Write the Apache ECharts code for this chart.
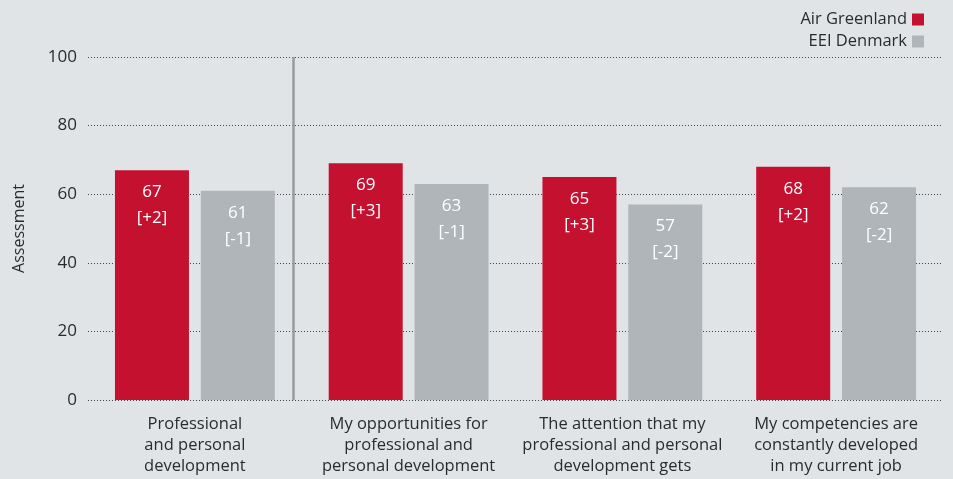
<!DOCTYPE html>
<html>
<head>
<meta charset="utf-8">
<script src="https://cdn.jsdelivr.net/npm/echarts@6/dist/echarts.min.js"></script>
<style>
  html, body { margin: 0; padding: 0; background: #e1e4e7; }
  #chart { width: 953px; height: 479px; }
</style>
</head>
<body>
<div id="chart"></div>
<script>
const categories = [
  'Professional\nand personal\ndevelopment',
  'My opportunities for\nprofessional and\npersonal development',
  'The attention that my\nprofessional and personal\ndevelopment gets',
  'My competencies are\nconstantly developed\nin my current job',
]
const airGreenland = [67, 69, 65, 68]
const airGreenlandDelta = ['+2', '+3', '+3', '+2']
const eeiDenmark = [61, 63, 57, 62]
const eeiDenmarkDelta = ['-1', '-1', '-2', '-2']
const yTicks = [0, 20, 40, 60, 80, 100]
// separator between first group and the rest (in category units)
const separatorAt = [0.96]

const font = 'Open Sans, Noto Sans, sans-serif'
const chart = echarts.init(document.getElementById('chart'))

const barLabel = deltas => ({
  show: true,
  position: 'insideTop',
  distance: 9,
  color: '#fff',
  fontSize: 17,
  fontFamily: font,
  lineHeight: 26,
  formatter: p => `${p.value}\n[${deltas[p.dataIndex]}]`,
})

const option = {
  backgroundColor: '#e1e4e7',
  legend: {
    data: ['Air Greenland', 'EEI Denmark'],
    orient: 'vertical',
    right: 24,
    top: 6,
    align: 'right',
    icon: 'rect',
    itemWidth: 12,
    itemHeight: 12,
    itemGap: 5,
    textStyle: { color: '#2b2b2b', fontSize: 16.5, fontFamily: font },
  },
  grid: { top: 57, left: 88, right: 10, bottom: 79 },
  xAxis: [
    {
      type: 'category',
      data: categories,
      axisTick: { show: false },
      axisLine: { show: false },
      axisLabel: {
        color: '#2b2b2b',
        fontSize: 16.5,
        fontFamily: font,
        lineHeight: 21,
        margin: 14,
        interval: 0,
      },
    },
    {
      type: 'value',
      min: 0,
      max: categories.length,
      show: false,
    },
  ],
  yAxis: {
    type: 'value',
    min: yTicks[0],
    max: yTicks[yTicks.length - 1],
    interval: 20,
    name: 'Assessment',
    nameLocation: 'middle',
    nameGap: 61,
    nameTextStyle: { color: '#2b2b2b', fontSize: 16, fontFamily: font },
    axisLabel: { color: '#2b2b2b', fontSize: 17, fontFamily: font, margin: 11 },
    axisLine: { show: false },
    axisTick: { show: false },
    splitLine: { lineStyle: { color: '#444', type: [1, 2], width: 1 } },
  },
  series: [
    {
      name: 'Air Greenland',
      type: 'bar',
      barWidth: 74,
      barGap: '16%',
      itemStyle: { color: '#c41130' },
      label: barLabel(airGreenlandDelta),
      data: airGreenland,
    },
    {
      name: 'EEI Denmark',
      type: 'bar',
      barWidth: 74,
      itemStyle: { color: '#b0b5ba' },
      label: barLabel(eeiDenmarkDelta),
      data: eeiDenmark,
    },
    {
      name: 'separator',
      type: 'line',
      xAxisIndex: 1,
      data: [],
      silent: true,
      markLine: {
        symbol: 'none',
        silent: true,
        label: { show: false },
        lineStyle: { color: '#9a9a9a', width: 2.5, type: 'solid' },
        data: separatorAt.map(x => ({ xAxis: x })),
      },
    },
  ],
}
chart.setOption(option)
</script>
</body>
</html>
